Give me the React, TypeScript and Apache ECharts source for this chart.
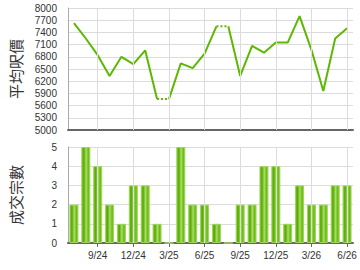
import React, { useEffect, useRef } from "react";
import * as echarts from "echarts";

const months = ["7/24", "8/24", "9/24", "10/24", "11/24", "12/24", "1/25", "2/25", "3/25", "4/25", "5/25", "6/25", "7/25", "8/25", "9/25", "10/25", "11/25", "12/25", "1/26", "2/26", "3/26", "4/26", "5/26", "6/26"];
const avgPrice = [7630, 7250, 6840, 6330, 6800, 6620, 6960, 5760, 5760, 6640, 6520, 6880, 7550, 7550, 6330, 7070, 6900, 7150, 7150, 7800, 6970, 5960, 7250, 7500];
const deals = [2, 5, 4, 2, 1, 3, 3, 1, 0, 5, 2, 2, 1, 0, 2, 2, 4, 4, 1, 3, 2, 2, 3, 3];
const labelledMonths = ["9/24", "12/24", "3/25", "6/25", "9/25", "12/25", "3/26", "6/26"];
const priceMin = 5000;
const priceMax = 8000;
const priceStep = 300;
const dealMax = 5;

const GREEN = "#5cb800";
const FONT = "'Liberation Sans', Arial, sans-serif";
const CJK = "'Noto Sans CJK TC', sans-serif";

function buildLineSeries() {
  const n = avgPrice.length;
  const breaks = deals.map((d, i) => (d === 0 && i > 0 ? i : -1)).filter((i) => i > 0);
  const segs: [number, number][] = [];
  let start = 0;
  breaks.forEach((b) => {
    segs.push([start, b - 1]);
    start = b;
  });
  segs.push([start, n - 1]);
  const solidA: (number | null)[] = new Array(n).fill(null);
  const solidB: (number | null)[] = new Array(n).fill(null);
  segs.forEach(([s, e], k) => {
    for (let i = s; i <= e; i++) (k % 2 === 0 ? solidA : solidB)[i] = avgPrice[i];
  });
  const dotted: (number | null)[] = new Array(n).fill(null);
  breaks.forEach((b) => {
    dotted[b - 1] = avgPrice[b - 1];
    dotted[b] = avgPrice[b];
  });
  const base = {
    type: "line",
    xAxisIndex: 0,
    yAxisIndex: 0,
    showSymbol: false,
    symbol: "none",
    connectNulls: false,
    z: 3,
  };
  return [
    { ...base, data: solidA, lineStyle: { color: GREEN, width: 2 } },
    { ...base, data: solidB, lineStyle: { color: GREEN, width: 2 } },
    { ...base, data: dotted, lineStyle: { color: GREEN, width: 2, type: [2, 2] } },
  ];
}

function gridLineSeries(idx: number) {
  return {
    type: "line",
    xAxisIndex: idx,
    yAxisIndex: idx,
    data: months.map(() => null),
    silent: true,
    z: 0,
    markLine: {
      silent: true,
      symbol: "none",
      label: { show: false },
      lineStyle: { color: "#dcdcdc", width: 1, type: "solid" },
      data: labelledMonths.map((m) => ({ xAxis: m })),
    },
  };
}

export default function App() {
  const ref = useRef<HTMLDivElement>(null);
  useEffect(() => {
    if (!ref.current) return;
    const chart = echarts.init(ref.current, undefined, { renderer: "svg" });
    const isLabelled = (_i: number, v: string) => labelledMonths.indexOf(v) >= 0;
    const plain = (v: number) => String(v);
    const xBase = (idx: number, showLabels: boolean) => ({
      type: "category",
      gridIndex: idx,
      data: months,
      boundaryGap: true,
      axisLine: { show: true, lineStyle: { color: "#666", width: 2 } },
      axisTick: { show: showLabels, alignWithLabel: true, interval: isLabelled, length: 4, lineStyle: { color: "#666" } },
      axisLabel: { show: showLabels, interval: isLabelled, color: "#333", fontSize: 10, fontFamily: FONT, margin: 7 },
      splitLine: { show: false },
    });
    const yBase = (idx: number, name: string, min: number, max: number, interval: number) => ({
      type: "value",
      gridIndex: idx,
      min,
      max,
      interval,
      name,
      nameLocation: "middle",
      nameRotate: 90,
      nameGap: 45,
      nameTextStyle: { fontSize: 15, color: "#333", fontFamily: CJK },
      axisLine: { show: true, lineStyle: { color: "#aaa", width: 1 } },
      axisTick: { show: false },
      axisLabel: { color: "#333", fontSize: 10, fontFamily: FONT, margin: 11, formatter: plain },
      splitLine: { show: true, lineStyle: { color: "#dcdcdc", width: 1 } },
    });
    const option = {
      animation: false,
      backgroundColor: "#fff",
      grid: [
        { left: 65, right: 7, top: 8, height: 122 },
        { left: 65, right: 7, top: 147, height: 96 },
      ],
      xAxis: [xBase(0, false), xBase(1, true)],
      yAxis: [
        yBase(0, "平均呎價", priceMin, priceMax, priceStep),
        yBase(1, "成交宗數", 0, dealMax, 1),
      ],
      series: [
        gridLineSeries(0),
        gridLineSeries(1),
        ...buildLineSeries(),
        {
          type: "bar",
          xAxisIndex: 1,
          yAxisIndex: 1,
          data: deals,
          barWidth: 9,
          z: 2,
          itemStyle: {
            borderColor: "#9ed45a",
            borderWidth: 1,
            color: new echarts.graphic.LinearGradient(0, 0, 1, 0, [
              { offset: 0, color: "#6dbd18" },
              { offset: 0.25, color: "#5aab04" },
              { offset: 0.55, color: "#a9de68" },
              { offset: 0.8, color: "#6cbb14" },
              { offset: 1, color: "#7fc62c" },
            ]),
          },
        },
      ],
    };
    chart.setOption(option as any);
    return () => chart.dispose();
  }, []);
  return (
    <div
      ref={ref}
      style={{ position: "fixed", left: 0, top: 0, width: 360, height: 270, background: "#fff" }}
    />
  );
}
